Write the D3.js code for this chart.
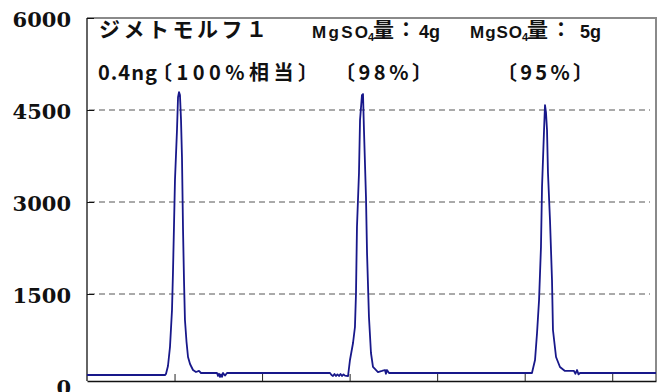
<html>
<head>
  <meta charset="utf-8">
  <title>ジメトモルフ</title>
  <script src="https://d3js.org/d3.v7.min.js"></script>
  <style>
    body { margin: 0; background: #fff; }
    .lab { font-family: "Noto Sans CJK JP", sans-serif; font-weight: 700; fill: #111; }
    .lat { font-family: "Liberation Sans", Arial, sans-serif; font-weight: 700; fill: #111; }
  </style>
</head>
<body>
<svg width="658" height="392"></svg>
<script>
  // retention time (tick every 1 unit) and detector response
  var time = [0, 0.891, 0.902, 0.925, 0.948, 0.971, 0.982, 0.994, 1.005, 1.028, 1.040, 1.051, 1.062,
    1.074, 1.085, 1.097, 1.108, 1.119, 1.137, 1.154, 1.177, 1.211, 1.245, 1.279, 1.302,
    1.485, 1.497, 1.508, 1.520, 1.531, 1.543, 1.554, 1.576, 1.599,
    2.776, 2.793, 2.810, 2.827, 2.844, 2.861, 2.879, 2.896, 2.913, 2.930, 2.947, 2.982,
    3.004, 3.039, 3.061, 3.073, 3.084, 3.107, 3.119, 3.141, 3.153, 3.164, 3.187, 3.199,
    3.221, 3.244, 3.267, 3.324, 3.370, 3.404, 3.415, 3.427, 3.450, 3.484,
    5.083, 5.118, 5.141, 5.164, 5.186, 5.198, 5.221, 5.232, 5.243, 5.255, 5.266, 5.289,
    5.312, 5.323, 5.358, 5.403, 5.460, 5.563, 5.580, 5.598, 5.615, 5.632, 6.5];
  var signal = [179, 179, 196, 326, 636, 1239, 1842, 2624, 3358, 4173, 4711, 4792, 4743,
    4336, 3733, 2543, 1728, 1076, 717, 473, 359, 261, 228, 245, 212,
    212, 163, 200, 147, 190, 150, 212, 170, 212,
    212, 180, 163, 195, 163, 190, 163, 195, 163, 190, 170, 163,
    424, 701, 962, 1516, 2592, 3472, 4336, 4743, 4760, 4173, 3081, 2168,
    1125, 538, 310, 228, 245, 261, 200, 261, 212, 212,
    212, 424, 864, 1402, 2266, 3244, 4173, 4580, 4466, 4173, 3472, 2706,
    1728, 913, 473, 310, 245, 245, 200, 261, 190, 212, 212];
  var yTicks = [0, 1500, 3000, 4500, 6000];
  var gridValues = [1500, 3000, 4500];

  var svg = d3.select("svg");
  var pL = 87, pR = 656, pT = 18, pB = 381;

  var x = d3.scaleLinear().domain([0, 6.5]).range([pL, pR]);
  var y = d3.scaleLinear().domain([0, 6000]).range([386, pT]);

  // frame: gray top/right
  svg.append("path")
    .attr("d", "M" + pL + "," + pT + "H" + pR + "V" + pB)
    .attr("fill", "none")
    .attr("stroke", "#8a8a8a")
    .attr("stroke-width", 2);

  // grid
  svg.selectAll(".grid")
    .data(gridValues)
    .enter()
    .append("line")
    .attr("x1", pL + 2)
    .attr("x2", pR - 6)
    .attr("y1", function(d) { return y(d); })
    .attr("y2", function(d) { return y(d); })
    .attr("stroke", "#555")
    .attr("stroke-dasharray", "6,4")
    .attr("stroke-width", 1);

  // left axis with inward ticks
  var ya = svg.append("g")
    .attr("transform", "translate(" + pL + ",0)")
    .call(d3.axisLeft(y).tickValues(yTicks).tickFormat(d3.format("d"))
      .tickSizeInner(-7).tickSizeOuter(0).tickPadding(16));
  ya.select(".domain").remove();
  ya.append("line").attr("x1", 0).attr("x2", 0).attr("y1", pT).attr("y2", pB)
    .attr("stroke", "#111").attr("stroke-width", 1.3);
  ya.selectAll(".tick line")
    .attr("stroke", "#111")
    .attr("display", function(d) { return d === 0 ? "none" : null; });
  ya.selectAll(".tick text")
    .attr("font-family", "DejaVu Serif")
    .attr("font-weight", "bold")
    .attr("font-size", "21px")
    .attr("fill", "#111")
    .attr("dy", "0.4em");

  // bottom axis, no labels
  var xa = svg.append("g")
    .attr("transform", "translate(0," + pB + ")")
    .call(d3.axisBottom(x).tickValues([1, 2, 3, 4, 5, 6]).tickSizeInner(-7).tickSizeOuter(0).tickFormat(""));
  xa.select(".domain").attr("stroke", "#111").attr("stroke-width", 1.3);
  xa.selectAll(".tick line").attr("stroke", "#222");

  // signal trace
  var pts = time.map(function(t, i) { return [t, signal[i]]; });
  svg.append("path")
    .datum(pts)
    .attr("fill", "none")
    .attr("stroke", "#18188a")
    .attr("stroke-width", 1.8)
    .attr("stroke-linejoin", "round")
    .attr("d", d3.line().x(function(d) { return x(d[0]); }).y(function(d) { return y(d[1]); }));

  function label(str, px, py, size, len, cls) {
    var t = svg.append("text")
      .attr("class", cls || "lab")
      .attr("x", px)
      .attr("y", py)
      .attr("font-size", size + "px")
      .text(str);
    if (len) t.attr("textLength", len);
    return t;
  }

  label("ジメトモルフ１", 99, 37, 21, 168);
  label("MgSO", 312, 38, 17, 56, "lat");
  label("4", 368, 41, 11, null, "lat");
  label("量", 373, 37, 21);
  label("：", 396, 37, 20);
  label("4g", 419, 38, 18, null, "lat");
  label("MgSO", 470, 38, 17, 52, "lat");
  label("4", 522, 41, 11, null, "lat");
  label("量", 527, 37, 21);
  label("：", 551, 37, 20);
  label("5g", 580, 38, 18, null, "lat");

  label("0.4ng", 98, 80, 20, 59);
  label("〔100%相当〕", 152, 80, 20, 166);
  label("〔98%〕", 335, 80, 20, 97);
  label("〔95%〕", 497, 80, 20, 96);
</script>
</body>
</html>
